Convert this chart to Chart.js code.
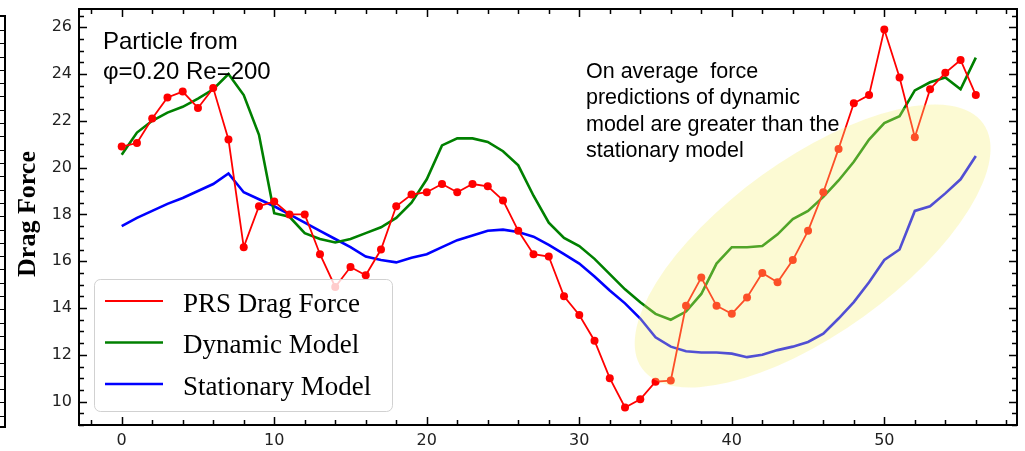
<!DOCTYPE html>
<html>
<head>
<meta charset="utf-8">
<title>Drag Force</title>
<script src="https://cdn.jsdelivr.net/npm/chart.js@4.4.1/dist/chart.umd.min.js"></script>
<style>
  html, body { margin: 0; padding: 0; background: #fff; }
  #wrap { width: 1025px; height: 451px; position: relative; }
</style>
</head>
<body>
<div id="wrap"><canvas id="dragChart"></canvas></div>
<script>
// time steps along the particle path
const steps = [0, 1, 2, 3, 4, 5, 6, 7, 8, 9, 10, 11, 12, 13, 14, 15, 16, 17, 18, 19,
  20, 21, 22, 23, 24, 25, 26, 27, 28, 29, 30, 31, 32, 33, 34, 35, 36, 37, 38, 39,
  40, 41, 42, 43, 44, 45, 46, 47, 48, 49, 50, 51, 52, 53, 54, 55, 56];

const prsDrag = [20.9, 21.05, 22.1, 23.0, 23.25, 22.55, 23.4, 21.2, 16.6, 18.35,
  18.55, 18.0, 18.0, 16.3, 14.9, 15.75, 15.4, 16.5, 18.35, 18.85,
  18.95, 19.3, 18.95, 19.3, 19.2, 18.6, 17.3, 16.3, 16.2, 14.5,
  13.7, 12.6, 11.0, 9.75, 10.1, 10.85, 10.9, 14.1, 15.3, 14.1,
  13.75, 14.45, 15.5, 15.1, 16.05, 17.3, 18.95, 20.8, 22.75, 23.1,
  25.9, 23.85, 21.3, 23.35, 24.05, 24.6, 23.1];

const dynamicModel = [20.55, 21.5, 22.0, 22.35, 22.6, 22.95, 23.35, 24.0, 23.1, 21.4,
  18.05, 17.9, 17.2, 16.95, 16.8, 16.95, 17.2, 17.45, 17.85, 18.5,
  19.5, 20.95, 21.25, 21.25, 21.1, 20.7, 20.1, 18.8, 17.65, 17.0,
  16.65, 16.1, 15.45, 14.8, 14.25, 13.75, 13.5, 13.85, 14.6, 15.9,
  16.6, 16.6, 16.65, 17.15, 17.8, 18.15, 18.75, 19.45, 20.25, 21.2,
  21.9, 22.2, 23.3, 23.65, 23.85, 23.35, 24.7];

const stationaryModel = [17.5, 17.85, 18.15, 18.45, 18.7, 19.0, 19.3, 19.75, 18.95, 18.65,
  18.35, 18.0, 17.65, 17.3, 16.95, 16.6, 16.2, 16.05, 15.95, 16.15,
  16.3, 16.6, 16.9, 17.1, 17.3, 17.35, 17.25, 17.05, 16.7, 16.3,
  15.9, 15.35, 14.75, 14.2, 13.55, 12.75, 12.35, 12.15, 12.1, 12.1,
  12.05, 11.9, 12.0, 12.2, 12.35, 12.55, 12.9, 13.55, 14.25, 15.1,
  16.05, 16.5, 18.15, 18.35, 18.9, 19.5, 20.5];

const seriesLabels = ['PRS Drag Force', 'Dynamic Model', 'Stationary Model'];
const yTitle = 'Drag Force';
const caseNote = ['Particle from', 'φ=0.20 Re=200'];
const trendNote = ['On average  force', 'predictions of dynamic',
  'model are greater than the', 'stationary model'];

// shaded region over the late part of the run (centre in data units, radii in px)
const highlight = { x: 45.3, y: 16.65, rx: 210, ry: 87, angle: -35.7 };

const pts = (ys) => steps.map((s, i) => ({ x: s, y: ys[i] }));

// ellipse goes over the lines, like a translucent patch
const highlightPatch = {
  id: 'highlightPatch',
  afterDatasetsDraw(chart) {
    const { ctx, scales: { x, y } } = chart;
    ctx.save();
    ctx.fillStyle = 'rgba(245,240,120,0.33)';
    ctx.beginPath();
    ctx.ellipse(x.getPixelForValue(highlight.x), y.getPixelForValue(highlight.y),
      highlight.rx, highlight.ry, highlight.angle * Math.PI / 180, 0, Math.PI * 2);
    ctx.fill();
    ctx.restore();
  }
};

// box frame with inward major/minor ticks on all four sides
const frameTicks = {
  id: 'frameTicks',
  afterDraw(chart) {
    const { ctx, chartArea: a, scales: { x, y } } = chart;
    ctx.save();
    ctx.strokeStyle = '#000';
    ctx.lineWidth = 1.5;
    ctx.beginPath();
    for (let v = -2; v <= x.max; v += 2) {
      const px = Math.round(x.getPixelForValue(v)) + 0.5;
      const len = v % 10 === 0 ? 8 : 5;
      ctx.moveTo(px, a.bottom); ctx.lineTo(px, a.bottom - len);
      ctx.moveTo(px, a.top); ctx.lineTo(px, a.top + len);
    }
    for (let k = Math.ceil(y.min * 2); k <= y.max * 2; k++) {
      const py = Math.round(y.getPixelForValue(k / 2)) + 0.5;
      const len = k % 4 === 0 ? 8 : 5;
      ctx.moveTo(a.left, py); ctx.lineTo(a.left + len, py);
      ctx.moveTo(a.right, py); ctx.lineTo(a.right - len, py);
    }
    ctx.stroke();
    ctx.lineWidth = 2;
    ctx.strokeRect(a.left, a.top, a.right - a.left, a.bottom - a.top);

    // edge of the neighbouring panel at the far left
    ctx.beginPath();
    ctx.moveTo(0, 16); ctx.lineTo(5, 16); ctx.lineTo(5, 427); ctx.lineTo(0, 427);
    ctx.stroke();
    ctx.lineWidth = 1.2;
    ctx.beginPath();
    for (let ty = 30; ty < 424; ty += 13.3) {
      ctx.moveTo(0, Math.round(ty) + 0.5); ctx.lineTo(5, Math.round(ty) + 0.5);
    }
    ctx.stroke();

    // y axis title
    ctx.fillStyle = '#000';
    ctx.font = 'bold 26px "Liberation Serif", "Times New Roman", serif';
    ctx.textAlign = 'center';
    ctx.textBaseline = 'alphabetic';
    ctx.translate(35, 214);
    ctx.rotate(-Math.PI / 2);
    ctx.fillText(yTitle, 0, 0);
    ctx.restore();
  }
};

// legend box in the lower left and the two notes
const notesLegend = {
  id: 'notesLegend',
  afterDraw(chart) {
    const { ctx, chartArea: a } = chart;
    ctx.save();
    const bx = a.left + 15, by = 279, bw = 298, bh = 132;
    ctx.beginPath();
    ctx.roundRect(bx + 0.5, by + 0.5, bw, bh, 6);
    ctx.fillStyle = 'rgba(255,255,255,0.8)';
    ctx.fill();
    ctx.strokeStyle = 'rgba(204,204,204,0.9)';
    ctx.lineWidth = 1;
    ctx.stroke();

    ctx.font = '27px "Liberation Serif", "Times New Roman", serif';
    ctx.textAlign = 'left';
    ctx.textBaseline = 'alphabetic';
    chart.data.datasets.forEach((ds, i) => {
      const ly = by + 22 + i * 41.5;
      ctx.strokeStyle = ds.borderColor;
      ctx.lineWidth = ds.borderWidth;
      ctx.beginPath();
      ctx.moveTo(bx + 11, ly); ctx.lineTo(bx + 69, ly);
      ctx.stroke();
      ctx.fillStyle = '#000';
      ctx.fillText(ds.label, bx + 89, ly + 10.5);
    });

    ctx.fillStyle = '#000';
    ctx.font = '24px "Liberation Sans", Arial, sans-serif';
    caseNote.forEach((t, i) => ctx.fillText(t, a.left + 24, 49 + i * 29.5));
    ctx.font = '21.5px "Liberation Sans", Arial, sans-serif';
    trendNote.forEach((t, i) => ctx.fillText(t, 586, 78 + i * 26.3));
    ctx.restore();
  }
};

new Chart(document.getElementById('dragChart'), {
  type: 'line',
  data: {
    datasets: [
      {
        label: seriesLabels[0],
        data: pts(prsDrag),
        borderColor: '#ff0000',
        backgroundColor: '#ff0000',
        borderWidth: 1.8,
        pointRadius: 4,
        pointBorderWidth: 0,
        pointBackgroundColor: '#ff0000',
        tension: 0
      },
      {
        label: seriesLabels[1],
        data: pts(dynamicModel),
        borderColor: '#008000',
        borderWidth: 2.6,
        pointRadius: 0,
        tension: 0
      },
      {
        label: seriesLabels[2],
        data: pts(stationaryModel),
        borderColor: '#0000ff',
        borderWidth: 2.6,
        pointRadius: 0,
        tension: 0
      }
    ]
  },
  options: {
    responsive: true,
    maintainAspectRatio: false,
    animation: false,
    devicePixelRatio: 1,
    layout: { padding: { left: 0, top: 9, right: 8, bottom: 0 } },
    plugins: { legend: { display: false }, tooltip: { enabled: false } },
    scales: {
      x: {
        type: 'linear',
        min: -2.8,
        max: 58.7,
        grid: { display: false, drawTicks: false },
        border: { display: false },
        ticks: {
          stepSize: 10,
          includeBounds: false,
          padding: 6,
          color: '#222',
          font: { family: '"DejaVu Sans", sans-serif', size: 16 },
          maxRotation: 0
        },
        afterFit: (s) => { s.height = 26; s.paddingLeft = 0; s.paddingRight = 0; }
      },
      y: {
        min: 9.0,
        max: 26.78,
        grid: { display: false, drawTicks: false },
        border: { display: false },
        ticks: {
          stepSize: 2,
          includeBounds: false,
          padding: 7,
          color: '#222',
          font: { family: '"DejaVu Sans", sans-serif', size: 16 }
        },
        afterFit: (s) => { s.width = 79; s.paddingTop = 0; s.paddingBottom = 0; }
      }
    }
  },
  plugins: [highlightPatch, frameTicks, notesLegend]
});
</script>
</body>
</html>
